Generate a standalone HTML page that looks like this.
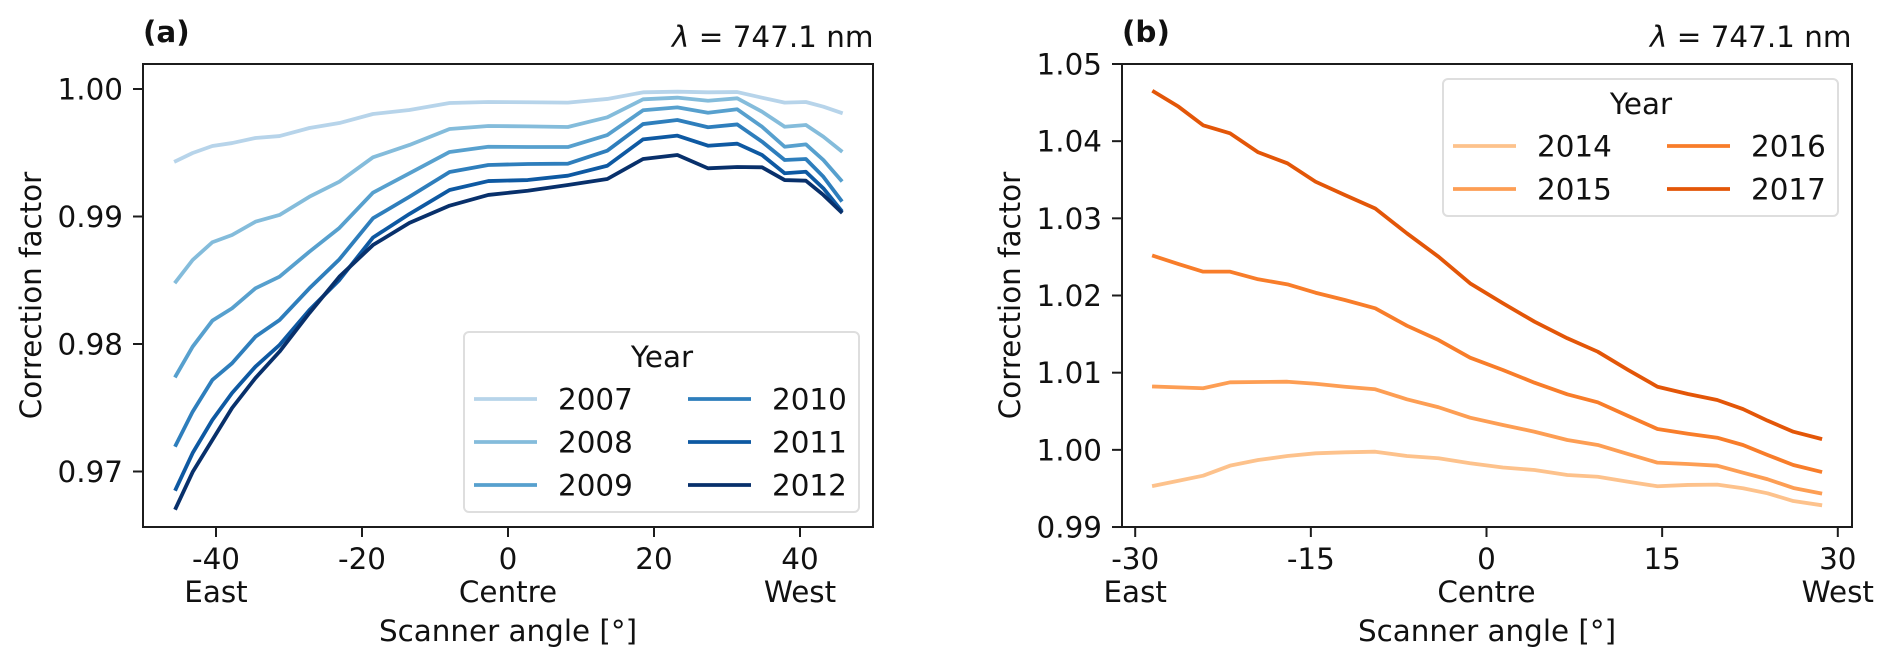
<!DOCTYPE html>
<html lang="en">
<head>
<meta charset="utf-8">
<title>Correction factor vs scanner angle</title>
<style>
html,body{margin:0;padding:0;background:#fff;width:1892px;height:667px;overflow:hidden}
svg{display:block}
text{font-family:"DejaVu Sans","Liberation Sans",sans-serif;fill:#111}
</style>
</head>
<body>
<svg id="figure" xmlns="http://www.w3.org/2000/svg" width="1892" height="667" viewBox="0 0 1892 667">
  <text x="143" y="42" font-size="29.4" font-weight="700">(a)</text>
  <text x="672" y="47" font-size="29.4"><tspan font-style="italic">λ</tspan> = 747.1 nm</text>
  <text x="1122" y="42" font-size="29.4" font-weight="700">(b)</text>
  <text x="1650" y="47" font-size="29.4"><tspan font-style="italic">λ</tspan> = 747.1 nm</text>
</svg>
<script>
// ---- Panel (a) data ----
const anglesA = [-45.5,-43.2,-40.5,-37.8,-34.6,-31.3,-27.2,-23.1,-18.5,-13.5,-8.0,-2.7,2.7,8.2,13.6,18.5,23.2,27.4,31.4,34.8,37.9,40.8,43.2,45.6];
const yearsA = ['2007','2008','2009','2010','2011','2012'];
const values2007 = [.99435,.99498,.99553,.99576,.99616,.99631,.99694,.99733,.99804,.99835,.9989,.99898,.99896,.99893,.99922,.99974,.99979,.99974,.99976,.99932,.99893,.99898,.99861,.99814];
const values2008 = [.98489,.98659,.98798,.98855,.98959,.99012,.99155,.99273,.99464,.99561,.99686,.9971,.99707,.99702,.99778,.99919,.99932,.99908,.99927,.99822,.99704,.99718,.99626,.99516];
const values2009 = [.97751,.97979,.98183,.9828,.98437,.98528,.98724,.9891,.99187,.99339,.99506,.99547,.99545,.99545,.99639,.99833,.99856,.99814,.99841,.99704,.99547,.99566,.99443,.99286];
const values2010 = [.97208,.97469,.97718,.97849,.98057,.98188,.98437,.98664,.98986,.99155,.99349,.99404,.99412,.99414,.99516,.99725,.99757,.997,.99722,.99587,.99443,.99451,.99312,.99129];
const values2011 = [.96863,.97145,.97404,.97616,.97822,.97992,.98267,.98502,.98835,.9902,.99208,.99278,.99286,.9932,.99398,.99605,.99634,.99555,.99571,.99482,.99339,.99351,.99221,.99051];
const values2012 = [.96714,.96996,.97247,.97498,.97733,.9794,.98243,.98528,.98776,.9895,.99085,.99169,.99202,.99247,.99294,.99451,.99482,.99378,.99388,.99386,.99286,.99281,.99169,.99038];
const xTicksA = [-40,-20,0,20,40];
const xTickLabelsA = ['-40','-20','0','20','40'];
const yTicksA = [0.97,0.98,0.99,1.00];
const yTickLabelsA = ['0.97','0.98','0.99','1.00'];
const directionTicksA = [-40,0,40];

// ---- Panel (b) data ----
const anglesB = [-28.4,-26.3,-24.2,-21.9,-19.5,-17.0,-14.6,-12.1,-9.5,-6.8,-4.1,-1.4,1.4,4.1,6.9,9.5,12.1,14.6,17.2,19.7,21.9,24.0,26.2,28.5];
const yearsB = ['2014','2015','2016','2017'];
const values2014 = [.99535,.996,.99665,.99795,.99868,.9992,.99955,.99968,.99976,.9992,.99891,.99826,.99771,.99739,.99674,.99652,.99587,.99528,.99545,.99549,.99502,.99437,.99337,.99285];
const values2015 = [1.0082,1.0081,1.00798,1.00875,1.00879,1.00883,1.00857,1.00818,1.00785,1.00655,1.00552,1.00417,1.00322,1.00235,1.00128,1.00063,.99946,.99834,.99817,.99795,.99704,.99619,.99506,.99437];
const values2016 = [1.02512,1.02408,1.02309,1.02309,1.0221,1.02145,1.02036,1.01942,1.01834,1.01609,1.01423,1.01194,1.01035,1.0087,1.0072,1.00616,1.00439,1.0027,1.00209,1.00157,1.00063,.99933,.99804,.99718];
const values2017 = [1.04641,1.04447,1.04206,1.04102,1.03856,1.03713,1.03475,1.03302,1.03127,1.02806,1.02503,1.02158,1.01899,1.01661,1.01446,1.01272,1.01035,1.00818,1.00724,1.00646,1.00529,1.00378,1.00235,1.00145];
const xTicksB = [-30,-15,0,15,30];
const xTickLabelsB = ['-30','-15','0','15','30'];
const yTicksB = [0.99,1.00,1.01,1.02,1.03,1.04,1.05];
const yTickLabelsB = ['0.99','1.00','1.01','1.02','1.03','1.04','1.05'];
const directionTicksB = [-30,0,30];
const directionLabels = ['East','Centre','West'];

const seriesA = [values2007,values2008,values2009,values2010,values2011,values2012];
const seriesB = [values2014,values2015,values2016,values2017];
const coloursA = ['#b7d4ea','#84bcdb','#57a0ce','#2e7ebc','#0e59a2','#08306b'];
const coloursB = ['#fdc28c','#fd9e54','#f87d2a','#e35608'];

const NS = 'http://www.w3.org/2000/svg';
const root = document.getElementById('figure');
const FONT = 29.4;

function make(tag, parent, name, attrs, content) {
  const el = document.createElementNS(NS, tag);
  
  
  for (const k in attrs) el.setAttribute(k, attrs[k]);
  if (content !== undefined) el.textContent = content;
  parent.appendChild(el);
  return el;
}

function drawPanel(cfg) {
  const x = v => cfg.x0 + v * cfg.xScale;
  const y = v => cfg.yRef - (v - cfg.vRef) * cfg.yScale;
  const g = make('g', root, cfg.id + '-chart', {});
  // series
  cfg.series.forEach((vals, i) => {
    const d = vals.map((v, j) => (j ? 'L' : 'M') + x(cfg.angles[j]).toFixed(2) + ' ' + y(v).toFixed(2)).join(' ');
    make('path', g, cfg.id + '-line-' + cfg.years[i], {d, fill:'none', stroke:cfg.colours[i], 'stroke-width':3.8, 'stroke-linejoin':'round', 'stroke-linecap':'square'});
  });
  // axes frame
  make('rect', g, cfg.id + '-axes-frame', {x:cfg.left, y:cfg.top, width:cfg.right-cfg.left, height:cfg.bottom-cfg.top, fill:'none', stroke:'#1c1c1c', 'stroke-width':2});
  // x ticks
  cfg.xTicks.forEach((t, i) => {
    make('line', g, cfg.id + '-x-tick', {x1:x(t), x2:x(t), y1:cfg.bottom, y2:cfg.bottom+10, stroke:'#1c1c1c', 'stroke-width':2});
    make('text', g, cfg.id + '-x-tick-label', {x:x(t), y:569, 'font-size':FONT, 'text-anchor':'middle'}, cfg.xLabels[i]);
  });
  cfg.dirTicks.forEach((t, i) => {
    make('text', g, cfg.id + '-direction-label', {x:x(t), y:602, 'font-size':FONT, 'text-anchor':'middle'}, directionLabels[i]);
  });
  // y ticks
  cfg.yTicks.forEach((t, i) => {
    make('line', g, cfg.id + '-y-tick', {x1:cfg.left-10, x2:cfg.left, y1:y(t), y2:y(t), stroke:'#1c1c1c', 'stroke-width':2});
    make('text', g, cfg.id + '-y-tick-label', {x:cfg.left-20, y:y(t)+10.5, 'font-size':FONT, 'text-anchor':'end'}, cfg.yLabels[i]);
  });
  make('text', g, cfg.id + '-x-axis-title', {x:(cfg.left+cfg.right)/2, y:641, 'font-size':FONT, 'text-anchor':'middle'}, 'Scanner angle [°]');
  const yMid = (cfg.top+cfg.bottom)/2;
  const bx = cfg.left - 102;
  make('text', g, cfg.id + '-y-axis-title', {x:bx, y:yMid, 'font-size':FONT, 'text-anchor':'middle', transform:'rotate(-90 '+bx+' '+yMid+')'}, 'Correction factor');
  // legend
  const L = cfg.legend;
  const lg = make('g', g, cfg.id + '-legend', {});
  make('rect', lg, cfg.id + '-legend-frame', {x:L.x, y:L.y, width:395, height:L.h, rx:5, fill:'#fff', 'fill-opacity':0.85, stroke:'#dedede', 'stroke-width':2});
  make('text', lg, cfg.id + '-legend-title', {x:L.x+198, y:L.y+35, 'font-size':FONT, 'text-anchor':'middle'}, 'Year');
  const rows = cfg.years.length / 2;
  cfg.years.forEach((yr, i) => {
    const col = Math.floor(i / rows), row = i % rows;
    const hx = L.x + 10 + col * 214, ry = L.y + 67 + row * 43;
    make('line', lg, cfg.id + '-legend-handle-' + yr, {x1:hx, x2:hx+63, y1:ry, y2:ry, stroke:cfg.colours[i], 'stroke-width':3.8});
    make('text', lg, cfg.id + '-legend-entry-' + yr, {x:hx+84, y:ry+10.5, 'font-size':FONT}, yr);
  });
}

drawPanel({id:'panel-a', left:143, right:873, top:64, bottom:527, x0:508, xScale:7.3, yRef:89, vRef:1.0, yScale:12750,
  angles:anglesA, series:seriesA, years:yearsA, colours:coloursA,
  xTicks:xTicksA, xLabels:xTickLabelsA, yTicks:yTicksA, yLabels:yTickLabelsA, dirTicks:directionTicksA,
  legend:{x:464, y:332, h:180}});
drawPanel({id:'panel-b', left:1122, right:1852, top:64, bottom:527, x0:1486.5, xScale:11.71, yRef:64, vRef:1.05, yScale:7717,
  angles:anglesB, series:seriesB, years:yearsB, colours:coloursB,
  xTicks:xTicksB, xLabels:xTickLabelsB, yTicks:yTicksB, yLabels:yTickLabelsB, dirTicks:directionTicksB,
  legend:{x:1443, y:79, h:137}});
</script>
</body>
</html>
